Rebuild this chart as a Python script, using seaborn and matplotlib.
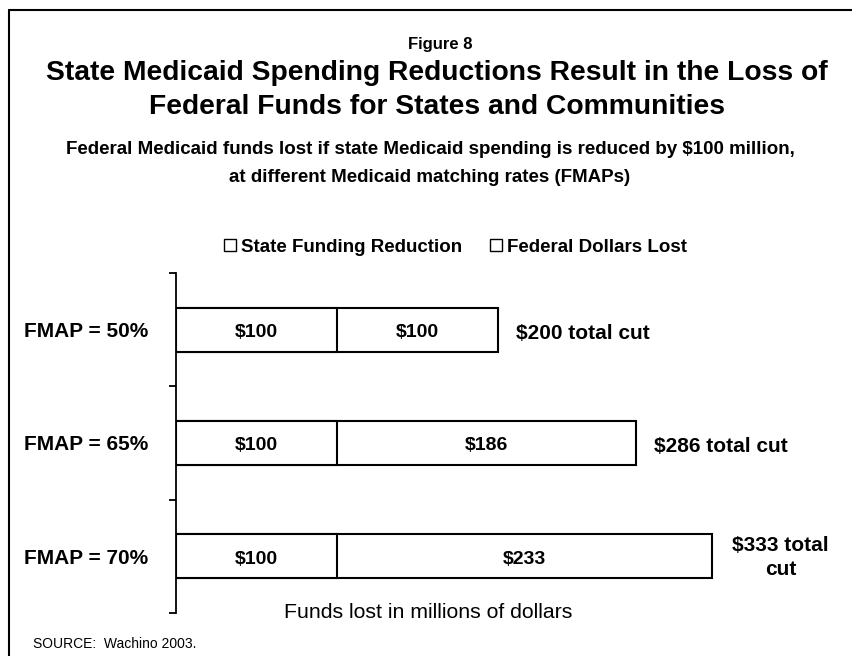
import matplotlib
matplotlib.use("Agg")
import matplotlib.pyplot as plt
import seaborn as sns
import pandas as pd
from matplotlib.lines import Line2D

categories = ["FMAP = 50%", "FMAP = 65%", "FMAP = 70%"]
state_reduction = [100, 100, 100]
federal_lost = [100, 186, 233]
total_labels = ["$200 total cut", "$286 total cut", "$333 total\ncut"]
series_names = ["State Funding Reduction", "Federal Dollars Lost"]

sns.set_theme(style="white")
plt.rcParams["font.family"] = ["Liberation Sans", "DejaVu Sans"]
plt.rcParams["text.color"] = "black"
plt.rcParams["axes.labelcolor"] = "black"
plt.rcParams["ytick.color"] = "black"
plt.rcParams["xtick.color"] = "black"

df = pd.DataFrame({
    "category": categories,
    "state": state_reduction,
    "federal": federal_lost,
})
df["total"] = df["state"] + df["federal"]

W, H = 852, 656
fig = plt.figure(figsize=(W / 100, H / 100), dpi=100)
ax_left, ax_right, ax_top, ax_bottom = 176, 820, 273, 613
ax = fig.add_axes([ax_left / W, 1 - ax_bottom / H, (ax_right - ax_left) / W,
                   (ax_bottom - ax_top) / H])

bar_w = 0.39
sns.barplot(data=df, x="total", y="category", orient="h", color="white",
            edgecolor="black", linewidth=1.5, width=bar_w, ax=ax, saturation=1)
sns.barplot(data=df, x="state", y="category", orient="h", color="white",
            edgecolor="black", linewidth=1.5, width=bar_w, ax=ax, saturation=1)

xmax = (ax_right - ax_left) / 1.61
ax.set_xlim(0, xmax)
ax.set_ylim(2.5, -0.5)

for i, row in df.iterrows():
    ax.text(row["state"] / 2, i + 0.025, f"${row['state']}", ha="center", va="center",
            fontsize=14, fontweight="bold")
    ax.text(row["state"] + row["federal"] / 2, i + 0.025, f"${row['federal']}",
            ha="center", va="center", fontsize=14, fontweight="bold")
    if "\n" in total_labels[i]:
        ax.text(row["total"] + 12.5, i + 0.01, total_labels[i], ha="left", va="center",
                fontsize=15, fontweight="bold", multialignment="center", linespacing=1.35)
    else:
        ax.text(row["total"] + 11, i + 0.03, total_labels[i], ha="left", va="center",
                fontsize=15, fontweight="bold")

for s in ["top", "right", "bottom"]:
    ax.spines[s].set_visible(False)
ax.spines["left"].set_color("black")
ax.spines["left"].set_linewidth(1.3)
ax.set_xticks([])
ax.set_yticks(range(len(categories)))
ax.set_yticklabels(categories, fontsize=15, fontweight="bold")
ax.set_yticks([-0.5, 0.5, 1.5, 2.5], minor=True)
ax.tick_params(axis="y", which="major", length=0, pad=20)
ax.tick_params(axis="y", which="minor", length=5, width=1.3, color="black",
               direction="out", left=True)
ax.set_xlabel("")
ax.set_ylabel("")

# Titles
fig.text(440 / W, 1 - 44 / H, "Figure 8", ha="center", va="center", fontsize=12,
         fontweight="bold")
fig.text(437 / W, 1 - 73 / H, "State Medicaid Spending Reductions Result in the Loss of",
         ha="center", va="center", fontsize=20.3, fontweight="bold")
fig.text(437 / W, 1 - 107 / H, "Federal Funds for States and Communities",
         ha="center", va="center", fontsize=20.3, fontweight="bold")
fig.text(430 / W, 1 - 150 / H,
         "Federal Medicaid funds lost if state Medicaid spending is reduced by $100 million,",
         ha="center", va="center", fontsize=13.5, fontweight="bold")
fig.text(430 / W, 1 - 178 / H, "at different Medicaid matching rates (FMAPs)",
         ha="center", va="center", fontsize=13.5, fontweight="bold")

# Legend
handles = [Line2D([0], [0], marker="s", linestyle="none", markerfacecolor="white",
                  markeredgecolor="black", markersize=8, markeredgewidth=1)
           for _ in series_names]
fig.legend(handles, series_names, loc="center", bbox_to_anchor=(455 / W, 1 - 247 / H),
           ncol=2, frameon=False, prop={"weight": "bold", "size": 13.5},
           handletextpad=0.2, columnspacing=1.4, handlelength=0.8)

fig.text(428 / W, 1 - 612 / H, "Funds lost in millions of dollars", ha="center",
         va="center", fontsize=15.3)
fig.text(33 / W, 1 - 644 / H, "SOURCE:  Wachino 2003.", ha="left", va="center",
         fontsize=10)

# Border (left and top)
fig.add_artist(Line2D([9 / W, 9 / W], [0, 1 - 10 / H], transform=fig.transFigure,
                      color="black", linewidth=1.5))
fig.add_artist(Line2D([9 / W, 1], [1 - 10 / H, 1 - 10 / H], transform=fig.transFigure,
                      color="black", linewidth=1.5))

fig.savefig("out.png", dpi=100, facecolor="white")
